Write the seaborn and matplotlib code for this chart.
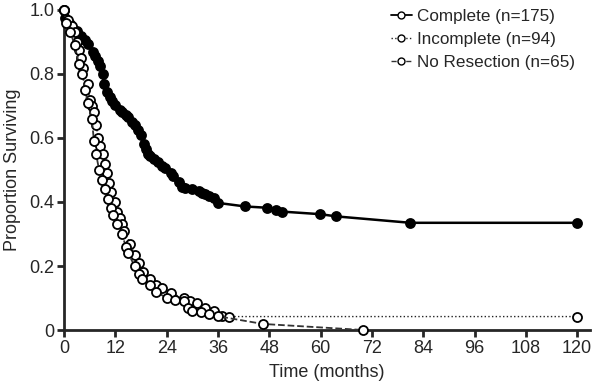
import matplotlib
matplotlib.use('Agg')
import matplotlib.pyplot as plt
import numpy as np
import pandas as pd
import seaborn as sns
from matplotlib.lines import Line2D
from matplotlib.legend_handler import HandlerLine2D

# survival data (months, proportion surviving)
complete_months = [0, 0.3, 1.5, 3.0, 4.0, 5.0, 5.7, 6.7, 7.2, 8.0, 8.5, 9.0, 9.4, 10.0,
                   10.7, 11.3, 12.0, 13.0, 13.5, 14.5, 15.0, 16.0, 16.5, 17.4, 18.0,
                   18.6, 19.1, 19.6, 20.2, 21.0, 22.0, 22.8, 23.6, 25.0, 25.6, 26.8,
                   27.7, 28.4, 30.0, 31.5, 32.3, 33.0, 34.0, 35.0, 36.1, 42.4, 47.5,
                   49.5, 51.0, 59.9, 63.7, 81.0, 120.0]
complete_surv = [1.0, 0.975, 0.955, 0.935, 0.918, 0.905, 0.895, 0.870, 0.855, 0.842,
                 0.826, 0.80, 0.77, 0.745, 0.728, 0.715, 0.703, 0.688, 0.68, 0.672,
                 0.665, 0.650, 0.640, 0.625, 0.610, 0.58, 0.565, 0.55, 0.543, 0.535,
                 0.525, 0.512, 0.506, 0.49, 0.482, 0.463, 0.448, 0.443, 0.440, 0.434,
                 0.428, 0.424, 0.419, 0.413, 0.397, 0.386, 0.382, 0.375, 0.370, 0.362,
                 0.355, 0.335, 0.335]

incomplete_months = [0, 1.0, 1.8, 2.5, 3.0, 3.5, 4.0, 4.5, 5.5, 6.0, 6.5, 7.0, 7.5, 8.0,
                     8.5, 9.0, 9.5, 10.0, 10.5, 11.0, 12.0, 12.5, 13.0, 13.5, 14.0, 15.5,
                     16.5, 17.5, 18.5, 20.0, 21.5, 23.0, 25.0, 28.0, 29.5, 31.0, 33.0,
                     35.0, 37.0, 38.5, 120.0]
incomplete_surv = [1.0, 0.97, 0.95, 0.93, 0.90, 0.875, 0.85, 0.82, 0.77, 0.72, 0.70, 0.68,
                   0.64, 0.60, 0.575, 0.55, 0.52, 0.49, 0.46, 0.43, 0.40, 0.37, 0.35, 0.33,
                   0.31, 0.27, 0.235, 0.21, 0.18, 0.16, 0.14, 0.13, 0.115, 0.10, 0.09,
                   0.085, 0.07, 0.06, 0.045, 0.042, 0.042]

noresect_months = [0, 0.5, 1.5, 2.5, 3.5, 4.3, 5.0, 5.5, 6.5, 7.0, 7.5, 8.2, 8.8, 9.5,
                   10.3, 11.0, 11.5, 12.5, 13.5, 14.5, 15.0, 16.5, 17.5, 18.3, 20.0, 21.5,
                   24.0, 26.0, 28.0, 29.0, 30.0, 32.0, 34.0, 36.0, 46.5, 70.0]
noresect_surv = [1.0, 0.96, 0.93, 0.89, 0.83, 0.80, 0.75, 0.71, 0.66, 0.59, 0.55, 0.50,
                 0.47, 0.44, 0.41, 0.38, 0.36, 0.33, 0.30, 0.26, 0.24, 0.20, 0.175, 0.16,
                 0.14, 0.12, 0.10, 0.095, 0.09, 0.07, 0.06, 0.055, 0.05, 0.043, 0.019, 0.0]

labels = ['Complete (n=175)', 'Incomplete (n=94)', 'No Resection (n=65)']


class LeftMarkerHandler(HandlerLine2D):
    """Legend handle with the marker at the left end of the line."""
    def get_xdata(self, legend, xdescent, ydescent, width, height, fontsize):
        return [-xdescent, -xdescent + width], [-xdescent]


sns.set_style('ticks')
plt.rcParams['font.family'] = ['Liberation Sans', 'DejaVu Sans']

fig = plt.figure(figsize=(5.95, 3.84), dpi=100)
ax = fig.add_axes([0.1076, 0.1406, 0.8840, 0.8334])

styles = [
    (complete_months, complete_surv, '-', 1.8, 'black', 'black'),
    (incomplete_months, incomplete_surv, ':', 1.0, '#222222', 'white'),
    (noresect_months, noresect_surv, '--', 1.3, '#333333', 'white'),
]
for (m, s, ls, lw, col, face), lab in zip(styles, labels):
    df = pd.DataFrame({'Time': m, 'Surv': s})
    sns.lineplot(data=df, x='Time', y='Surv', ax=ax, color=col, linestyle=ls,
                 linewidth=lw, marker='o', markersize=6.5, markerfacecolor=face,
                 markeredgecolor='black', markeredgewidth=1.3, sort=False,
                 estimator=None, clip_on=False, zorder=3 if face == 'black' else 4)

ax.set_xlim(0, 123)
ax.set_ylim(0, 1.0)
ax.set_xticks(np.arange(0, 121, 12))
ax.set_yticks([0, 0.2, 0.4, 0.6, 0.8, 1.0])
ax.set_yticklabels(['0', '0.2', '0.4', '0.6', '0.8', '1.0'])
ax.tick_params(axis='both', direction='out', length=5, width=2, labelsize=13, pad=2)
for side in ['left', 'bottom']:
    ax.spines[side].set_linewidth(2)
sns.despine(ax=ax)
ax.set_xlabel('Time (months)', fontsize=13, labelpad=5)
ax.set_ylabel('Proportion Surviving', fontsize=13, labelpad=6)

handles = [
    Line2D([], [], color='black', linestyle='-', linewidth=1.3, marker='o', markersize=5,
           markerfacecolor='white', markeredgecolor='black'),
    Line2D([], [], color='#222222', linestyle=':', linewidth=1.0, marker='o', markersize=5,
           markerfacecolor='white', markeredgecolor='black'),
    Line2D([], [], color='#333333', linestyle='--', linewidth=1.0, marker='o', markersize=5,
           markerfacecolor='white', markeredgecolor='black'),
]
ax.legend(handles, labels, loc='upper right', bbox_to_anchor=(1.0, 1.05), frameon=False,
          fontsize=12.3, handlelength=1.2, handletextpad=0.3, labelspacing=0.45,
          numpoints=1, handler_map={Line2D: LeftMarkerHandler()})

fig.savefig('out.png', dpi=100)
